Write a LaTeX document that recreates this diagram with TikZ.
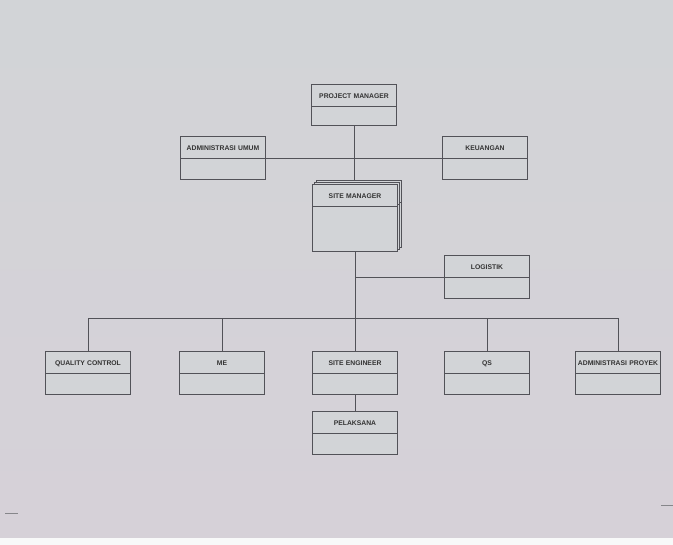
\documentclass[tikz,border=0pt]{standalone}
\usepackage{fontspec}
\setmainfont{Liberation Sans}
\usetikzlibrary{positioning,shapes,shadows}
\definecolor{paper}{RGB}{210,212,215}
\definecolor{paperlow}{RGB}{214,209,216}
\definecolor{pen}{RGB}{82,82,88}
\tikzstyle{post} = [draw=pen, fill=paper, rectangle split, rectangle split parts=2, text width=85pt, inner xsep=0pt, inner ysep=0pt, align=center, font=\fontsize{6.8}{8}\selectfont\bfseries, text=black!80]
\tikzstyle{line} = [draw=pen, line width=0.7pt]
\newcommand{\posttop}{\rule[-7pt]{0pt}{21pt}}
\newcommand{\postbot}[1][21pt]{\nodepart{second}\rule{0pt}{#1}}

\begin{document}
\begin{tikzpicture}[x=1pt, y=-1pt, node distance=2cm]

    % Sheet of paper
    \useasboundingbox (0,0) rectangle (673,545);
    \shade [top color=paper, bottom color=paperlow] (0,0) rectangle (673,538);
    \fill [white!85!paper] (0,538) rectangle (673,545);
    \draw [pen!70, line width=0.8pt] (5,513) -- (18,513);
    \draw [pen!70, line width=0.8pt] (661,505) -- (673,505);

    % Place nodes
    \node [post] (pm) at (354,105) {\posttop PROJECT MANAGER\postbot[19pt]};
    \node [post, below of=pm, node distance=53pt, xshift=-131pt] (adm-umum) {\posttop ADMINISTRASI UMUM\postbot};
    \node [post, below of=pm, node distance=53pt, xshift=131pt] (keuangan) {\posttop KEUANGAN\postbot};
    \node [post, below of=pm, node distance=113pt, xshift=1pt,
           double copy shadow={shadow xshift=2pt, shadow yshift=2pt}] (site-mgr) {\posttop SITE MANAGER\postbot[45pt]};
    \node [post, below of=site-mgr, node distance=59pt, xshift=132pt] (logistik) {\posttop LOGISTIK\postbot};
    \node [post, below of=site-mgr, node distance=155pt] (site-eng) {\posttop SITE ENGINEER\postbot};
    \node [post, left of=site-eng, node distance=133pt] (me) {\posttop ME\postbot};
    \node [post, left of=me, node distance=134pt] (qc) {\posttop QUALITY CONTROL\postbot};
    \node [post, right of=site-eng, node distance=132pt] (qs) {\posttop QS\postbot};
    \node [post, right of=qs, node distance=131pt] (adm-proyek) {\posttop ADMINISTRASI PROYEK\postbot};
    \node [post, below of=site-eng, node distance=60pt] (pelaksana) {\posttop PELAKSANA\postbot};
    \coordinate [above=33pt of site-eng.north] (bus);
    \coordinate [above=4pt of site-mgr.north] (sm-top);

    % Draw edges
    \path [line] (pm.south) -- (pm.south |- sm-top);
    \path [line] (adm-umum.text split east) -- (keuangan.text split west);
    \path [line] (site-mgr.south) -- (site-eng.north);
    \path [line] (logistik.text split west) -- (site-mgr.south |- logistik.text split west);
    \path [line] (qc.north) |- (bus) -| (adm-proyek.north);
    \path [line] (me.north) -- (me.north |- bus);
    \path [line] (qs.north) -- (qs.north |- bus);
    \path [line] (site-eng.south) -- (pelaksana.north);
\end{tikzpicture}
\end{document}
